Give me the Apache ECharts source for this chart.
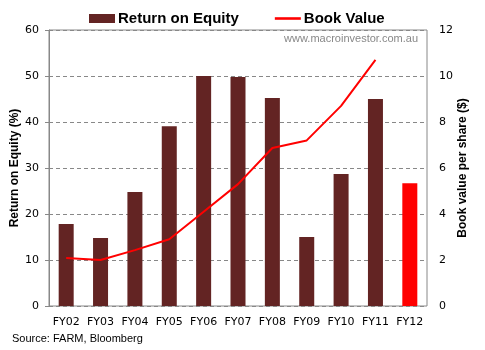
<!DOCTYPE html>
<html><head><meta charset="utf-8">
<script src="https://cdn.jsdelivr.net/npm/echarts@6/dist/echarts.min.js"></script>
<style>html,body{margin:0;padding:0;background:#fff}#c{width:485px;height:350px}</style>
</head><body><div id="c"></div>
<script>
var categories = ['FY02','FY03','FY04','FY05','FY06','FY07','FY08','FY09','FY10','FY11','FY12'];
var roe = [17.8, 14.8, 24.8, 39.1, 50.0, 49.8, 45.2, 15.0, 28.7, 45.0, 26.7];
var bookValue = [2.09, 2.0, 2.43, 2.9, 4.1, 5.3, 6.87, 7.2, 8.7, 10.7, null];
var leftTicks = [0,10,20,30,40,50,60];
var rightTicks = [0,2,4,6,8,10,12];

var font = '"DejaVu Sans", sans-serif';
var font2 = '"Liberation Sans", Arial, sans-serif';
var chart = echarts.init(document.getElementById('c'));
chart.setOption({
  animation: false,
  textStyle: {fontFamily: font},
  legend: {
    top: 11, left: 89, padding: 0, itemGap: 36, itemWidth: 26, itemHeight: 9,
    textStyle: {fontSize: 15, fontWeight: 'bold', color: '#000', fontFamily: font2, padding: [0, 0, 0, -2]},
    data: [
      {name: 'Return on Equity', icon: 'rect', itemStyle: {color: '#632423'}},
      {name: 'Book Value', icon: 'path://M0,0 L10,0 L10,1 L0,1 Z', itemStyle: {color: '#ff0000'}}
    ]
  },
  grid: {left: 49, right: 58, top: 30, bottom: 44, show: true, borderColor: '#888', borderWidth: 1, outerBoundsMode: 'none', containLabel: false},
  graphic: [
    {type: 'text', right: 67, top: 33, style: {text: 'www.macroinvestor.com.au', fill: '#888', font: '11px ' + font2}},
    {type: 'text', left: 12, top: 333, style: {text: 'Source: FARM, Bloomberg', fill: '#000', font: '11px ' + font2}}
  ],
  xAxis: {
    type: 'category', data: categories,
    axisLine: {show: false}, axisTick: {show: false},
    axisLabel: {color: '#000', fontSize: 11, margin: 11, interval: 0, fontFamily: font}
  },
  yAxis: [
    {type: 'value', min: 0, max: 60, interval: 10,
     name: 'Return on Equity (%)', nameLocation: 'middle', nameGap: 28, nameRotate: 90, nameMoveOverlap: false,
     nameTextStyle: {fontWeight: 'bold', fontSize: 12, color: '#000', fontFamily: font2},
     axisLine: {show: true, lineStyle: {color: '#888'}},
     axisTick: {show: true, length: 4, lineStyle: {color: '#888'}},
     axisLabel: {color: '#000', fontSize: 11, margin: 10, fontFamily: font},
     splitLine: {show: true, lineStyle: {color: '#888', type: [4, 3]}}},
    {type: 'value', min: 0, max: 12, interval: 2,
     name: 'Book value per share ($)', nameLocation: 'middle', nameGap: 30, nameRotate: 90, nameMoveOverlap: false,
     nameTextStyle: {fontWeight: 'bold', fontSize: 12, color: '#000', fontFamily: font2},
     axisLine: {show: false}, axisTick: {show: false},
     axisLabel: {color: '#000', fontSize: 11, margin: 12, fontFamily: font},
     splitLine: {show: false}}
  ],
  series: [
    {name: 'Return on Equity', type: 'bar', yAxisIndex: 0, barWidth: 15,
     data: roe.map(function(v, i){ return i === roe.length - 1 ? {value: v, itemStyle: {color: '#ff0000'}} : v; }),
     itemStyle: {color: '#632423'}},
    {name: 'Book Value', type: 'line', yAxisIndex: 1, data: bookValue,
     symbol: 'none', lineStyle: {color: '#ff0000', width: 2}, itemStyle: {color: '#ff0000'}}
  ]
});
</script></body></html>
